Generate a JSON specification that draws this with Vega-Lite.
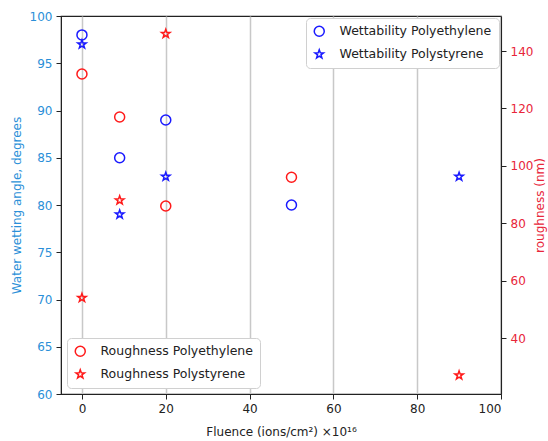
{
  "$schema": "https://vega.github.io/schema/vega-lite/v6.json",
  "autosize": {"type": "none"},
  "padding": {"left": 61, "top": 16, "right": 47, "bottom": 47},
  "width": 440,
  "height": 378,
  "background": "white",
  "config": {
    "font": "DejaVu Sans",
    "view": {"stroke": "#222222", "strokeWidth": 1.2},
    "axis": {"labelFontSize": 12, "titleFontSize": 12, "titleFontWeight": "normal", "domainColor": "#222222", "tickColor": "#222222", "tickSize": 5, "labelPadding": 4},
    "legend": {"labelFontSize": 12.5, "labelColor": "#222222", "fillColor": "white", "strokeColor": "#d0d0d0", "padding": 7, "cornerRadius": 4, "rowPadding": 6, "symbolStrokeWidth": 1.5, "labelOffset": 14}
  },
  "data": {
    "values": [
      {"fluence": 0, "value": 98, "measure": "angle", "series": "Wettability Polyethylene"},
      {"fluence": 9, "value": 85, "measure": "angle", "series": "Wettability Polyethylene"},
      {"fluence": 20, "value": 89, "measure": "angle", "series": "Wettability Polyethylene"},
      {"fluence": 50, "value": 80, "measure": "angle", "series": "Wettability Polyethylene"},
      {"fluence": 0, "value": 97, "measure": "angle", "series": "Wettability Polystyrene"},
      {"fluence": 9, "value": 79, "measure": "angle", "series": "Wettability Polystyrene"},
      {"fluence": 20, "value": 83, "measure": "angle", "series": "Wettability Polystyrene"},
      {"fluence": 90, "value": 83, "measure": "angle", "series": "Wettability Polystyrene"},
      {"fluence": 0, "value": 132, "measure": "roughness", "series": "Roughness Polyethylene"},
      {"fluence": 9, "value": 117, "measure": "roughness", "series": "Roughness Polyethylene"},
      {"fluence": 20, "value": 86, "measure": "roughness", "series": "Roughness Polyethylene"},
      {"fluence": 50, "value": 96, "measure": "roughness", "series": "Roughness Polyethylene"},
      {"fluence": 0, "value": 54, "measure": "roughness", "series": "Roughness Polystyrene"},
      {"fluence": 9, "value": 88, "measure": "roughness", "series": "Roughness Polystyrene"},
      {"fluence": 20, "value": 146, "measure": "roughness", "series": "Roughness Polystyrene"},
      {"fluence": 90, "value": 27, "measure": "roughness", "series": "Roughness Polystyrene"}
    ]
  },
  "encoding": {
    "x": {
      "field": "fluence", "type": "quantitative",
      "scale": {"domain": [-5, 100], "nice": false, "zero": false},
      "axis": {"values": [0, 20, 40, 60, 80, 100], "grid": true, "gridColor": "#c8c8c8", "gridWidth": 1.5, "title": "Fluence (ions/cm²) ×10¹⁶", "titlePadding": 12, "labelColor": "#222222", "titleColor": "#222222"}
    }
  },
  "layer": [
    {
      "transform": [{"filter": "datum.measure === 'angle'"}],
      "mark": {"type": "point", "filled": false, "strokeWidth": 1.5, "opacity": 1},
      "encoding": {
        "y": {
          "field": "value", "type": "quantitative",
          "scale": {"domain": [60, 100], "nice": false, "zero": false},
          "axis": {"orient": "left", "values": [60, 65, 70, 75, 80, 85, 90, 95, 100], "grid": false, "title": "Water wetting angle, degrees", "titleColor": "#2a8fd8", "labelColor": "#2a8fd8", "titlePadding": 6}
        },
        "color": {
          "field": "series", "type": "nominal",
          "scale": {"domain": ["Wettability Polyethylene", "Wettability Polystyrene"], "range": ["#1a1aff", "#1a1aff"]},
          "legend": {"title": null, "orient": "top-right", "offset": 2}
        },
        "shape": {
          "field": "series", "type": "nominal",
          "scale": {"domain": ["Wettability Polyethylene", "Wettability Polystyrene"], "range": ["circle", "M0,-1L0.235,-0.324L0.951,-0.309L0.38,0.124L0.588,0.809L0,0.4L-0.588,0.809L-0.38,0.124L-0.951,-0.309L-0.235,-0.324Z"]},
          "legend": {"title": null, "orient": "top-right", "offset": 2}
        },
        "size": {"field": "series", "type": "nominal", "scale": {"domain": ["Wettability Polyethylene", "Wettability Polystyrene"], "range": [100, 80]}, "legend": null}
      }
    },
    {
      "transform": [{"filter": "datum.measure === 'roughness'"}],
      "mark": {"type": "point", "filled": false, "strokeWidth": 1.5, "opacity": 1},
      "encoding": {
        "y": {
          "field": "value", "type": "quantitative",
          "scale": {"domain": [20.5, 152.2], "nice": false, "zero": false},
          "axis": {"orient": "right", "values": [40, 60, 80, 100, 120, 140], "grid": false, "title": "roughness (nm)", "titleColor": "#e8253a", "labelColor": "#e8253a", "titleAngle": 270, "titleBaseline": "top", "titlePadding": 2}
        },
        "color": {
          "field": "series", "type": "nominal",
          "scale": {"domain": ["Roughness Polyethylene", "Roughness Polystyrene"], "range": ["#ff1a1a", "#ff1a1a"]},
          "legend": {"title": null, "orient": "bottom-left", "offset": 6}
        },
        "shape": {
          "field": "series", "type": "nominal",
          "scale": {"domain": ["Roughness Polyethylene", "Roughness Polystyrene"], "range": ["circle", "M0,-1L0.235,-0.324L0.951,-0.309L0.38,0.124L0.588,0.809L0,0.4L-0.588,0.809L-0.38,0.124L-0.951,-0.309L-0.235,-0.324Z"]},
          "legend": {"title": null, "orient": "bottom-left", "offset": 6}
        },
        "size": {"field": "series", "type": "nominal", "scale": {"domain": ["Roughness Polyethylene", "Roughness Polystyrene"], "range": [100, 80]}, "legend": null}
      }
    }
  ],
  "resolve": {"scale": {"y": "independent", "color": "independent", "shape": "independent", "size": "independent"}}
}
